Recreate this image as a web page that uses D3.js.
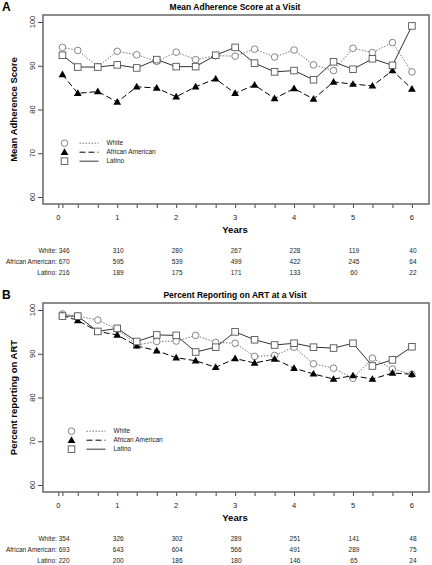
<!DOCTYPE html>
<html><head><meta charset="utf-8">
<script src="https://cdn.jsdelivr.net/npm/d3@7"></script>
<style>body{margin:0;background:#fff}svg{display:block;font-family:"Liberation Sans",Arial,sans-serif}</style>
</head><body><svg id="c" width="432" height="565"></svg>
<script>
const visitYears = [0.07,0.33,0.67,1,1.33,1.67,2,2.33,2.67,3,3.33,3.67,4,4.33,4.67,5,5.33,5.67,6];
const yearTicks = [0,1,2,3,4,5,6];
const yTicks = [60,70,80,90,100];
const seriesNames = ["White","African American","Latino"];

const adhWhite  = [94.2,93.5,89.8,93.3,92.5,91.0,93.1,91.4,92.3,92.2,93.8,92.0,93.6,90.2,88.9,94.0,93.0,95.3,88.6];
const adhAfrAm  = [88.0,83.7,84.1,81.7,85.2,84.9,82.9,85.2,87.0,83.7,85.6,82.5,84.8,82.4,86.3,85.8,85.4,88.9,84.7];
const adhLatino = [92.4,89.7,89.7,90.2,89.5,91.4,89.8,89.8,92.4,94.2,90.6,88.6,88.9,86.8,90.9,89.2,91.6,90.1,99.1];

const artWhite  = [99.1,98.6,97.7,95.6,92.0,92.8,92.9,94.2,92.6,92.4,89.4,89.6,91.5,87.7,86.7,84.4,89.0,86.5,85.3];
const artAfrAm  = [98.8,97.6,95.1,94.3,91.8,90.7,89.1,88.4,86.9,88.9,87.9,88.8,86.7,85.4,84.2,85.0,84.2,85.6,85.3];
const artLatino = [98.6,98.6,95.1,95.8,92.8,94.3,94.2,90.4,91.5,95.0,93.2,92.0,92.4,91.5,91.3,92.4,87.2,88.6,91.6];

const nLabels = ["White: ","African American: ","Latino: "];
const adhN = [[346,310,280,267,228,119,40],[670,595,539,499,422,245,64],[216,189,175,171,133,60,22]];
const artN = [[354,326,302,289,251,141,48],[693,643,604,566,491,289,75],[220,200,186,180,146,65,24]];

const svg = d3.select("#c");
const styles = [
  {shape:"circle", dash:"1.5,1.5", color:"#777", width:1},
  {shape:"triangle", dash:"6,3", color:"#000", width:1},
  {shape:"square", dash:null, color:"#333", width:1}
];

function marker(g, shape, x, y){
  if(shape==="circle") g.append("circle").attr("cx",x).attr("cy",y).attr("r",3.3).attr("fill","#fff").attr("stroke","#777").attr("stroke-width",0.9);
  else if(shape==="square") g.append("rect").attr("x",x-3.3).attr("y",y-3.3).attr("width",6.6).attr("height",6.6).attr("fill","#fff").attr("stroke","#555").attr("stroke-width",0.9);
  else g.append("path").attr("d",d3.symbol().type(d3.symbolTriangle).size(26)()).attr("transform",`translate(${x},${y+0.5})`).attr("fill","#000");
}

function panel(off, letter, title, ylab, data, ns, legX){
  const top = 15+off, bottom = 204+off, left = 43, right = 429;
  const x = d3.scaleLinear().domain([-0.26,6.29]).range([left,right]);
  const y = d3.scaleLinear().domain([58.4,101.6]).range([bottom,top]);
  const g = svg.append("g");
  g.append("text").attr("x",2).attr("y",11+off).attr("font-size",12).attr("font-weight","bold").text(letter);
  g.append("text").attr("x",235).attr("y",10+off).attr("text-anchor","middle").attr("font-size",8.5).attr("font-weight","bold").text(title);
  const ya = g.append("g").attr("transform",`translate(${left},0)`).call(d3.axisLeft(y).tickValues(yTicks).tickSize(5).tickFormat(""));
  ya.select(".domain").remove();
  ya.selectAll("line").attr("stroke","#444");
  yTicks.forEach(t=>{
    g.append("text").attr("transform",`translate(35,${y(t)}) rotate(-90)`).attr("text-anchor","middle").attr("font-size",7.5).attr("fill","#222").text(t);
  });
  g.append("text").attr("transform",`translate(17,${(top+bottom)/2}) rotate(-90)`).attr("text-anchor","middle").attr("font-size",9.5).attr("font-weight","bold").text(ylab);
  const xa = g.append("g").attr("transform",`translate(0,${bottom})`).call(d3.axisBottom(x).tickValues([0].concat(visitYears)).tickSize(4).tickFormat(""));
  xa.select(".domain").remove();
  xa.selectAll("line").attr("stroke","#444");
  yearTicks.forEach(t=>{
    g.append("text").attr("x",x(t)).attr("y",bottom+16).attr("text-anchor","middle").attr("font-size",7.5).attr("fill","#222").text(t);
  });
  g.append("text").attr("x",235).attr("y",bottom+29).attr("text-anchor","middle").attr("font-size",9.5).attr("font-weight","bold").text("Years");
  g.append("rect").attr("x",left).attr("y",top).attr("width",right-left).attr("height",bottom-top).attr("fill","none").attr("stroke","#666").attr("stroke-width",1.5);
  const line = d3.line().x((d,i)=>x(visitYears[i])).y(d=>y(d));
  data.forEach((arr,k)=>{
    const s = styles[k];
    g.append("path").attr("d",line(arr)).attr("fill","none").attr("stroke",s.color).attr("stroke-width",s.width).attr("stroke-dasharray",s.dash);
  });
  data.forEach((arr,k)=>{
    arr.forEach((v,i)=>marker(g, styles[k].shape, x(visitYears[i]), y(v)));
  });
  const ly0 = y(72.3), lstep = 9;
  seriesNames.forEach((nm,k)=>{
    const ly = ly0 + k*lstep;
    marker(g, styles[k].shape, legX, ly);
    g.append("line").attr("x1",legX+15).attr("x2",legX+34).attr("y1",ly).attr("y2",ly).attr("stroke",styles[k].color).attr("stroke-width",1).attr("stroke-dasharray",styles[k].dash);
    g.append("text").attr("x",legX+42).attr("y",ly+2.3).attr("font-size",6.5).attr("fill","#222").text(nm);
  });
  ns.forEach((row,r)=>{
    const ty = bottom + 49 + r*11;
    row.forEach((n,c)=>{
      if(c===0) g.append("text").attr("x",69.5).attr("y",ty).attr("text-anchor","end").attr("font-size",6.5).attr("fill","#222").text(nLabels[r]+n);
      else g.append("text").attr("x",x(yearTicks[c])+1).attr("y",ty).attr("text-anchor","middle").attr("font-size",6.5).attr("fill","#222").text(n);
    });
  });
}

panel(0,"A","Mean Adherence Score at a Visit","Mean Adherence Score",[adhWhite,adhAfrAm,adhLatino],adhN,64.5);
panel(288,"B","Percent Reporting on ART at a Visit","Percent reporting on ART",[artWhite,artAfrAm,artLatino],artN,71.5);
</script></body></html>
